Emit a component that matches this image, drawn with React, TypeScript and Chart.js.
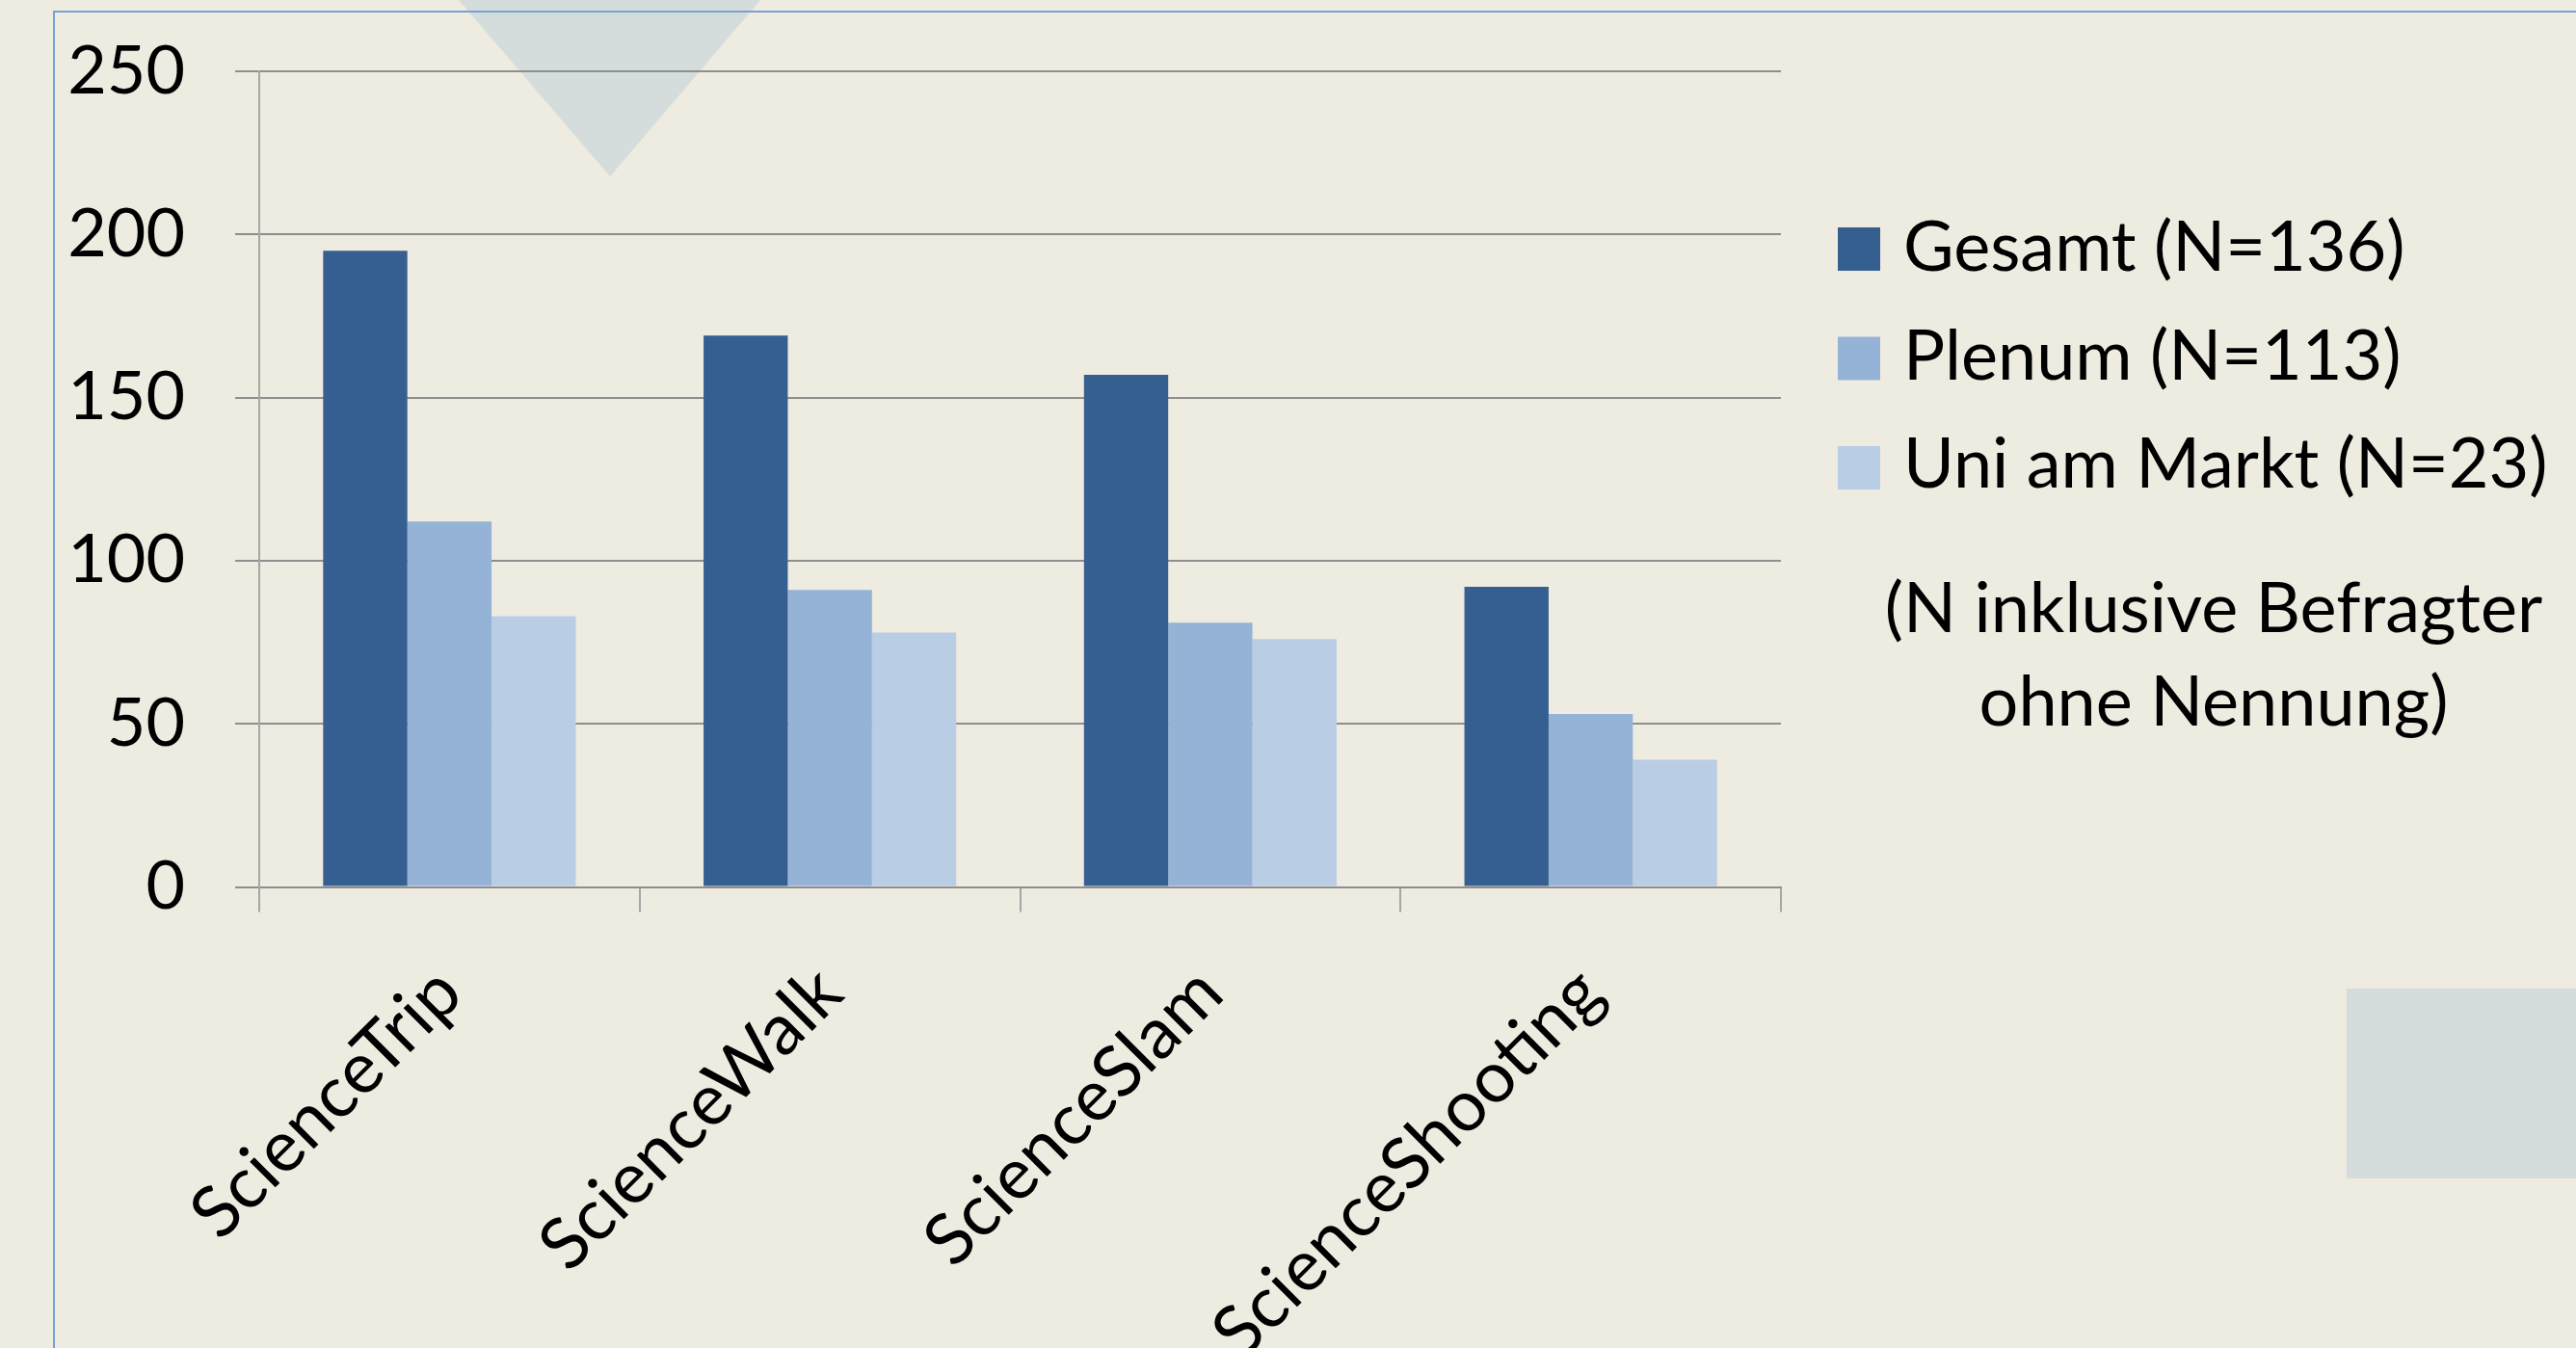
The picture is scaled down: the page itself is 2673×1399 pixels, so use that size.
import React, { useEffect, useRef } from "react";
import { Chart, registerables } from "chart.js";

Chart.register(...registerables);

const W = 2673;
const H = 1399;

const categories = ["ScienceTrip", "ScienceWalk", "ScienceSlam", "ScienceShooting"];
const gesamt = [195, 169, 157, 92];
const plenum = [112, 91, 81, 53];
const uniAmMarkt = [83, 78, 76, 39];
const seriesLabels = ["Gesamt (N=136)", "Plenum (N=113)", "Uni am Markt (N=23)"];
const seriesColors = ["#365F91", "#95B3D7", "#B9CDE5"];
const yTicks = [0, 50, 100, 150, 200, 250];
const noteLines = ["(N inklusive Befragter", "ohne Nennung)"];

const FONT = "Lato";

const decorPlugin = {
  id: "decor",
  beforeDraw(chart: any) {
    const ctx = chart.ctx as CanvasRenderingContext2D;
    ctx.save();
    ctx.fillStyle = "#EEEBE0";
    ctx.fillRect(0, 0, W, H);
    ctx.fillStyle = "#D5DCDC";
    ctx.beginPath();
    ctx.moveTo(476, 0);
    ctx.lineTo(789, 0);
    ctx.lineTo(633, 183);
    ctx.closePath();
    ctx.fill();
    ctx.fillRect(2435, 1026, W - 2435, 197);
    ctx.strokeStyle = "#7BA1D3";
    ctx.lineWidth = 2;
    ctx.beginPath();
    ctx.moveTo(56, H);
    ctx.lineTo(56, 12);
    ctx.lineTo(W, 12);
    ctx.stroke();
    ctx.restore();
  },
  afterDraw(chart: any) {
    const ctx = chart.ctx as CanvasRenderingContext2D;
    ctx.save();
    ctx.font = `72px ${FONT}`;
    ctx.textBaseline = "alphabetic";
    ctx.textAlign = "left";
    chart.data.datasets.forEach((ds: any, i: number) => {
      const top = 236 + i * 113.5;
      ctx.fillStyle = ds.backgroundColor;
      ctx.fillRect(1907, top, 44, 45);
      ctx.fillStyle = "#000";
      ctx.fillText(ds.label, 1975, 281 + i * 112.5);
    });
    ctx.textAlign = "center";
    noteLines.forEach((line, i) => {
      ctx.fillText(line, 2297, 656 + i * 96.5);
    });
    ctx.restore();
  },
};

export default function App() {
  const ref = useRef<HTMLCanvasElement | null>(null);

  useEffect(() => {
    let chart: Chart | null = null;
    let cancelled = false;
    const make = () => {
      if (cancelled || !ref.current) return;
      chart = new Chart(ref.current, {
        type: "bar",
        data: {
          labels: categories,
          datasets: [
            { label: seriesLabels[0], data: gesamt, backgroundColor: seriesColors[0] },
            { label: seriesLabels[1], data: plenum, backgroundColor: seriesColors[1] },
            { label: seriesLabels[2], data: uniAmMarkt, backgroundColor: seriesColors[2] },
          ],
        },
        options: {
          animation: false,
          responsive: false,
          maintainAspectRatio: false,
          devicePixelRatio: 1,
          datasets: { bar: { categoryPercentage: 0.664, barPercentage: 1 } },
          layout: { padding: { top: 74, right: 825, left: 0, bottom: 0 } },
          plugins: { legend: { display: false }, tooltip: { enabled: false } },
          scales: {
            x: {
              afterFit(s: any) {
                s.height = H - 920.5;
                s.paddingLeft = 0;
                s.paddingRight = 0;
              },
              grid: {
                drawOnChartArea: false,
                drawTicks: true,
                tickLength: 26,
                color: "#A6A6A6",
                lineWidth: 2,
                offset: true,
              },
              border: { display: true, color: "#8E8E8E", width: 2 },
              ticks: {
                font: { family: FONT, size: 74 },
                color: "#000",
                minRotation: 45,
                maxRotation: 45,
                padding: 40,
                autoSkip: false,
              },
            },
            y: {
              min: 0,
              max: 250,
              afterBuildTicks(s: any) {
                s.ticks = yTicks.map((value) => ({ value }));
              },
              afterFit(s: any) {
                s.width = 269;
                s.paddingTop = 0;
                s.paddingBottom = 0;
              },
              grid: { color: "#8E8E8E", lineWidth: 2, tickLength: 25, drawTicks: true },
              border: { display: true, color: "#A6A6A6", width: 2 },
              ticks: {
                font: { family: FONT, size: 70 },
                color: "#000",
                padding: 52,
              },
            },
          },
        },
        plugins: [decorPlugin],
      });
    };
    const fontsApi = (document as any).fonts;
    if (fontsApi && fontsApi.load) {
      fontsApi.load(`72px ${FONT}`).then(make, make);
    } else {
      make();
    }
    return () => {
      cancelled = true;
      if (chart) chart.destroy();
    };
  }, []);

  return (
    <div style={{ position: "absolute", left: 0, top: 0, width: W, height: H, overflow: "hidden" }}>
      <canvas ref={ref} width={W} height={H} style={{ width: W, height: H, display: "block" }} />
    </div>
  );
}
